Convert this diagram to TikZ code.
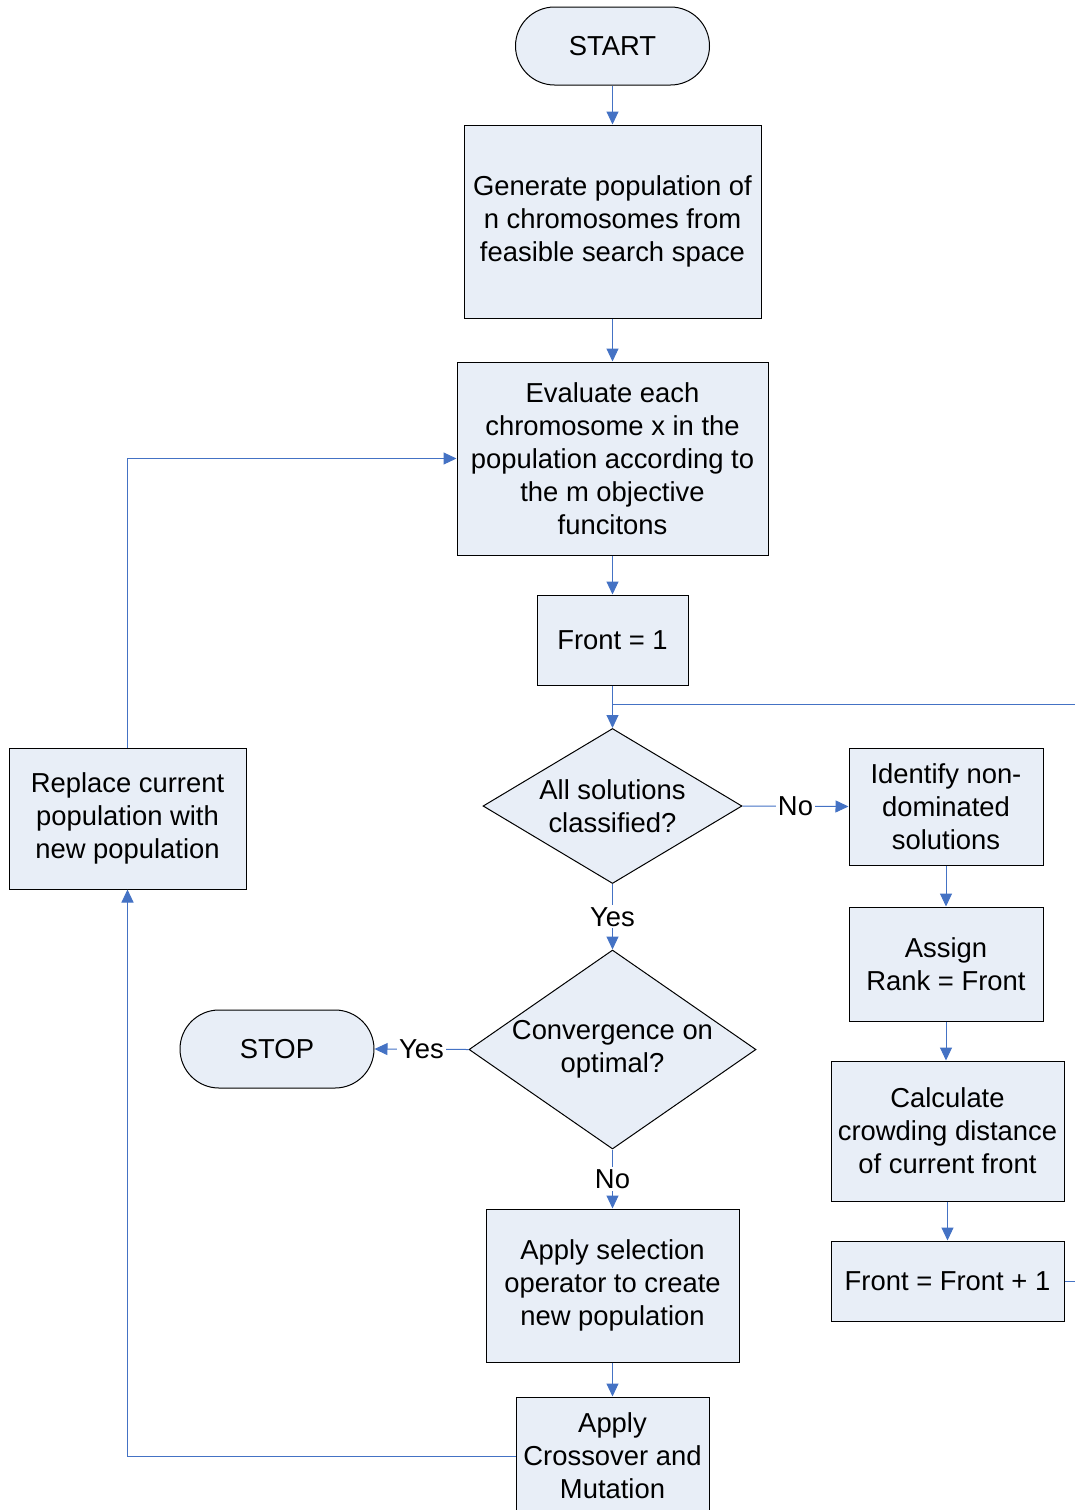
\documentclass[tikz,border=0pt]{standalone}
\usepackage{fontspec}
\setmainfont{Liberation Sans}
\usetikzlibrary{arrows.meta,shapes.geometric}
\definecolor{flowfill}{RGB}{232,238,247}
\definecolor{flowline}{RGB}{68,114,196}
\tikzset{
  >={Triangle[length=13pt,width=12pt]},
  box/.style={draw=black, fill=flowfill, line width=1pt, align=center, inner sep=0pt,
    font=\fontsize{27.4}{33}\selectfont},
  term/.style={box, rounded corners=39pt, minimum width=194pt, minimum height=78pt},
  decision/.style={box, diamond, aspect=1.6},
  flow/.style={draw=flowline, line width=1pt},
  tag/.style={fill=white, inner sep=2pt, font=\fontsize{27.4}{33}\selectfont}
}
\begin{document}
\begin{tikzpicture}[x=1pt,y=-1pt]
\clip (0,0) rectangle (1075,1510);
% main column
\node[term] (start) at (612.5,46) {START};
\node[box, minimum width=297pt, minimum height=193pt] (gen) at (612.5,221.5)
  {Generate population of\\n chromosomes from\\feasible search space};
\node[box, minimum width=311pt, minimum height=193pt] (eval) at (612.5,458.5)
  {Evaluate each\\chromosome x in the\\population according to\\the m objective\\funcitons};
\node[box, minimum width=151pt, minimum height=90pt] (front1) at (612.5,640) {Front = 1};
\node[decision, minimum width=259pt, minimum height=155pt] (crit1) at (612.5,806)
  {All solutions\\classified?};
\node[decision, minimum width=287pt, minimum height=199pt, aspect=1.44] (crit2) at (612.5,1049.5)
  {Convergence on\\optimal?};
\node[term] (stop) at (277,1049) {STOP};
\node[box, minimum width=253pt, minimum height=153pt] (select) at (612.5,1285.5)
  {Apply selection\\operator to create\\new population};
\node[box, minimum width=193pt, minimum height=118pt] (cross) at (612.5,1456)
  {Apply\\Crossover and\\Mutation};
\node[box, minimum width=237pt, minimum height=141pt] (repl) at (127.5,818.5)
  {Replace current\\population with\\new population};
% ranking column
\node[box, minimum width=194pt, minimum height=117pt] (ident) at (946,806.5)
  {Identify non-\\dominated\\solutions};
\node[box, minimum width=194pt, minimum height=114pt] (rank) at (946,964)
  {Assign\\Rank = Front};
\node[box, minimum width=233pt, minimum height=140pt] (crowd) at (947.5,1131)
  {Calculate\\crowding distance\\of current front};
\node[box, minimum width=233pt, minimum height=80pt] (plus) at (947.5,1281)
  {Front = Front + 1};
\coordinate (join) at (612.5,704);
% connectors
\draw[flow,->] (start) -- (gen);
\draw[flow,->] (gen) -- (eval);
\draw[flow,->] (eval) -- (front1);
\draw[flow,->] (front1) -- (crit1);
\draw[flow,->] (crit1.east) -- node[tag] {No} (ident.west);
\draw[flow,->] (ident) -- (rank);
\draw[flow,->] (rank.south) -- (rank.south |- crowd.north);
\draw[flow,->] (crowd.south) -- (crowd.south |- plus.north);
\draw[flow] (plus.east) -- (1078,1281) |- (join);
\draw[flow,->] (crit1.south) -- node[tag] {Yes} (crit2.north);
\draw[flow,->] (crit2.west) -- node[tag] {Yes} (stop.east);
\draw[flow,->] (crit2.south) -- node[tag] {No} (select.north);
\draw[flow,->] (select) -- (cross);
\draw[flow,->] (cross.west) -| (repl.south);
\draw[flow,->] (repl.north) |- (eval.west);
\end{tikzpicture}
\end{document}
